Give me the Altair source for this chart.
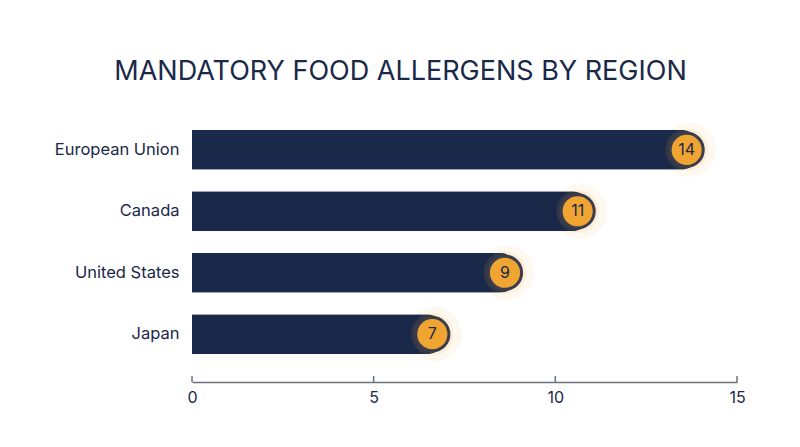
import altair as alt
import pandas as pd

regions = ["European Union", "Canada", "United States", "Japan"]
counts = [14, 11, 9, 7]
ticks = [0, 5, 10, 15]

df = pd.DataFrame({"region": regions, "count": counts})
tdf = pd.DataFrame({"t": ticks})

NAVY = "#1a2849"
ORANGE = "#f0a431"
FONT = "Inter"

x = alt.X("count:Q", scale=alt.Scale(domain=[0, 15], nice=False),
          axis=alt.Axis(values=ticks, title=None, grid=False, ticks=False,
                        domainColor="#6b6f7e", domainWidth=1.5, offset=18,
                        labelFont=FONT, labelFontSize=16, labelColor=NAVY,
                        labelPadding=7, labelFlush=False))
y = alt.Y("region:N", sort=regions,
          scale=alt.Scale(paddingInner=0.35, paddingOuter=0.16),
          axis=alt.Axis(title=None, ticks=False, domain=False, labelFont=FONT,
                        labelFontSize=16.5, labelColor=NAVY, labelPadding=13))
yy = alt.Y("region:N", sort=regions)

base = alt.Chart(df)
bars = base.mark_bar(color=NAVY, cornerRadiusEnd=20, height=40, x2Offset=6).encode(x=x, y=y)
glow1 = base.mark_circle(color=ORANGE, opacity=0.07, size=3000, xOffset=-12).encode(x="count:Q", y=yy)
glow2 = base.mark_circle(color=ORANGE, opacity=0.12, size=1800, xOffset=-14).encode(x="count:Q", y=yy)
dots = base.mark_circle(color=ORANGE, opacity=1, size=1100, xOffset=-14,
                        stroke="#3a3d4d", strokeWidth=3).encode(x="count:Q", y=yy)
labels = base.mark_text(font=FONT, fontSize=16, color=NAVY, dx=-14, baseline="middle").encode(
    x="count:Q", y=yy, text="count:Q")
tickmarks = alt.Chart(tdf).mark_rule(color="#6b6f7e", strokeWidth=1.5).encode(
    x=alt.X("t:Q"), y=alt.value(256), y2=alt.value(262))

chart = alt.layer(glow1, bars, glow2, dots, labels, tickmarks).properties(
    width=545, height=244,
    title=alt.Title("MANDATORY FOOD ALLERGENS BY REGION", font=FONT, fontSize=27,
                    fontWeight=400, color=NAVY, anchor="middle", dx=-64, offset=34),
    autosize=alt.AutoSizeParams(type="none"),
    padding={"left": 184, "top": 112, "right": 55, "bottom": 75},
).configure_view(stroke=None)

chart.save("out.html", embed_options={"renderer": "svg", "actions": False})
